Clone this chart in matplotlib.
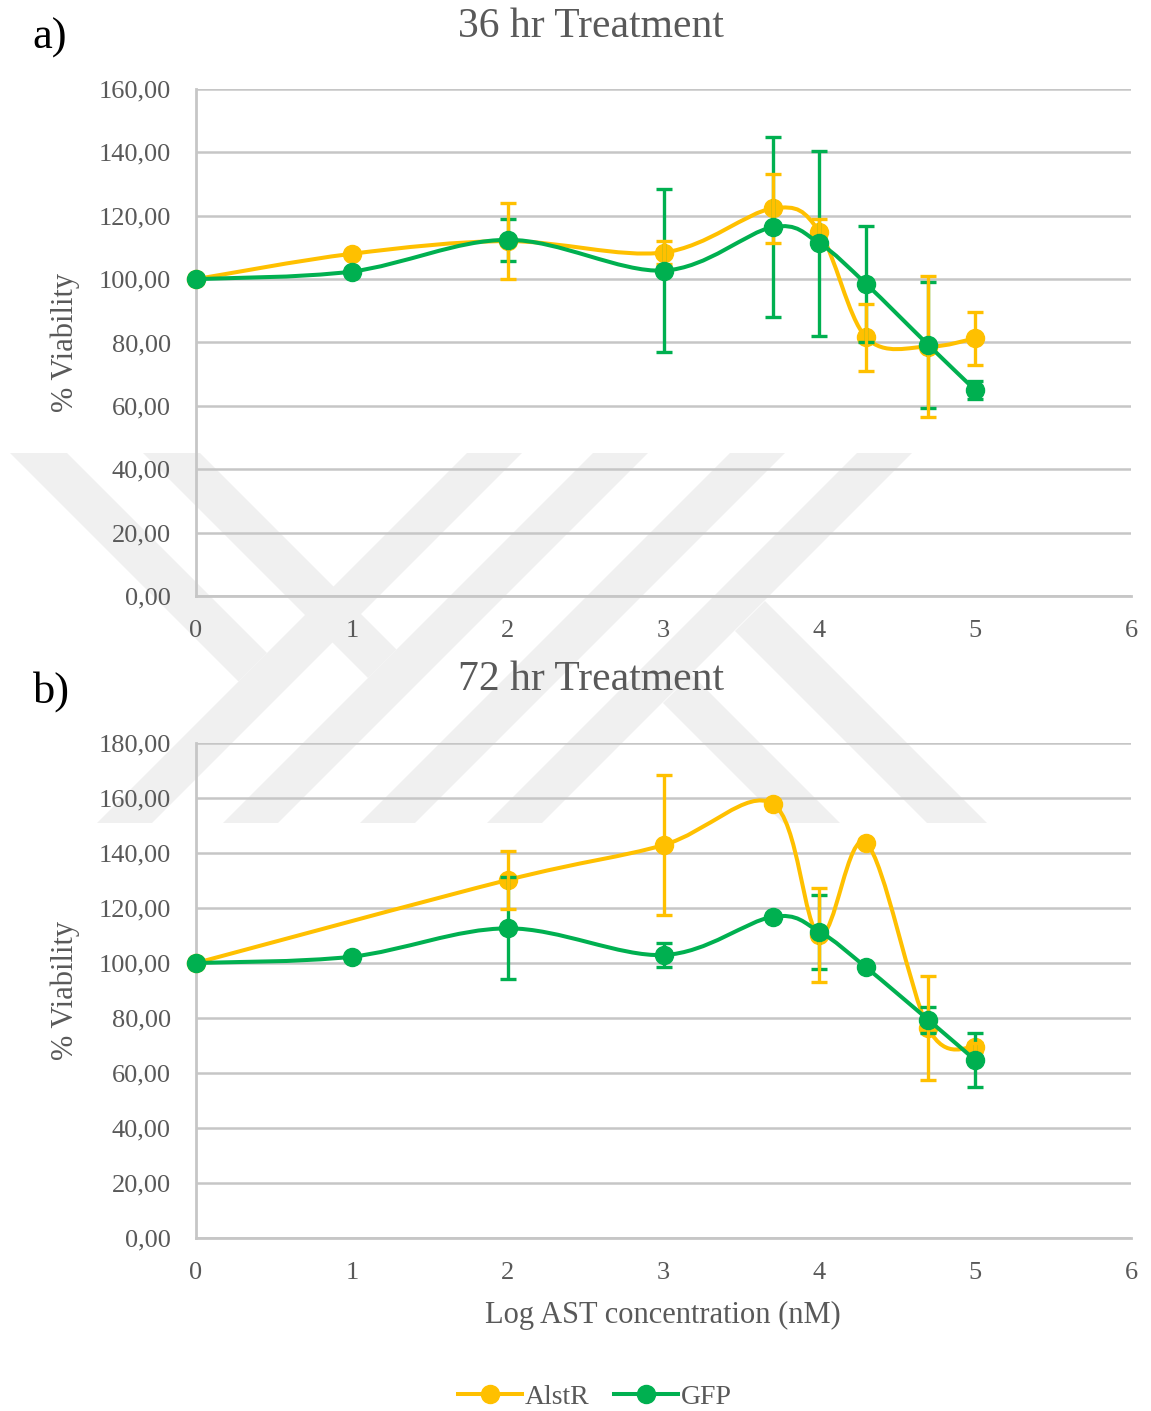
import numpy as np
import matplotlib
matplotlib.use("Agg")
import matplotlib.pyplot as plt
from matplotlib.path import Path
from matplotlib.patches import PathPatch, Polygon
from matplotlib.lines import Line2D
from matplotlib.ticker import FuncFormatter

plt.rcParams['font.family'] = ['Liberation Serif', 'DejaVu Serif']

# ---------------- data ----------------
x_36 = [0, 1, 2, 3, 3.7, 4, 4.3, 4.7, 5]
alstr_36 = [100, 108, 112, 108.4, 122.3, 115, 81.6, 78.7, 81.3]
alstr_36_err = [0, 0, 12, 3.7, 10.9, 4, 10.5, 22.3, 8.3]
gfp_36 = [100, 102.4, 112.4, 102.7, 116.4, 111.3, 98.5, 79.2, 65.0]
gfp_36_err = [0, 0, 6.7, 25.6, 28.5, 29.2, 18.3, 20, 2.7]

x_alstr_72 = [0, 2, 3, 3.7, 4, 4.3, 4.7, 5]
alstr_72 = [100, 130.2, 142.9, 158.0, 110.2, 143.7, 76.2, 69.3]
alstr_72_err = [0, 10.7, 25.6, 0, 17.1, 0, 18.9, 1.5]
x_gfp_72 = [0, 1, 2, 3, 3.7, 4, 4.3, 4.7, 5]
gfp_72 = [100, 102.3, 112.6, 102.9, 116.8, 111.4, 98.4, 79.3, 64.7]
gfp_72_err = [0, 0, 18.5, 4.4, 0, 13.5, 0, 4.6, 9.7]

series_names = ["AlstR", "GFP"]
titles = ["36 hr Treatment", "72 hr Treatment"]
panel_labels = ["a)", "b)"]
ylims = [160, 180]
x_ticks = [0, 1, 2, 3, 4, 5, 6]
ylabel = "% Viability"
xlabel = "Log AST concentration (nM)"

ORANGE = "#FFC000"
GREEN = "#00B050"
TXT = "#595959"
GRID = "#c6c6c6"

W, H = 1151, 1411
fig = plt.figure(figsize=(W / 100, H / 100), dpi=100)


def fx(px):
    return px / W


def fy(py):
    return 1 - py / H


# ---------------- watermark (faint) ----------------
wm_color = "#f0f0f0"
wm_polys = []
for xb in [97, 223, 360, 487]:
    wm_polys.append([(xb, 823), (xb + 55, 823), (xb + 55 + 370, 453), (xb + 370, 453)])
wm_polys.append([(10, 453), (67, 453), (267, 653), (238.5, 681.5)])
wm_polys.append([(143, 453), (200, 453), (396.5, 649.5), (368, 678)])
wm_polys.append([(663, 703), (691.5, 674.5), (840, 823), (783, 823)])
wm_polys.append([(735, 631), (765, 601), (987, 823), (927, 823)])
for poly in wm_polys:
    p = Polygon([(fx(a), fy(b)) for a, b in poly], closed=True,
                transform=fig.transFigure, facecolor=wm_color,
                edgecolor="none", zorder=-5)
    fig.add_artist(p)


def smooth_path(xs, ys):
    pts = np.column_stack([xs, ys]).astype(float)
    n = len(pts)
    verts = [pts[0]]
    codes = [Path.MOVETO]
    for i in range(n - 1):
        p0 = pts[i - 1] if i > 0 else pts[i]
        p1 = pts[i]
        p2 = pts[i + 1]
        p3 = pts[i + 2] if i + 2 < n else pts[i + 1]
        c1 = p1 + (p2 - p0) / 6.0
        c2 = p2 - (p3 - p1) / 6.0
        verts += [c1, c2, p2]
        codes += [Path.CURVE4] * 3
    return Path(verts, codes)


LW = 2.9
MS = 13
ELW = 2.4
CAP = 11

# axes rectangles (pixels): left 196, right 1131
axes_px = [(89, 596), (743, 1238)]
title_y = [27, 680]
label_pos = [(50, 38), (52, 692)]

panels = [
    (x_36, alstr_36, alstr_36_err, x_36, gfp_36, gfp_36_err),
    (x_alstr_72, alstr_72, alstr_72_err, x_gfp_72, gfp_72, gfp_72_err),
]

for k, (xa, ya, ea, xg, yg, eg) in enumerate(panels):
    top, bot = axes_px[k]
    ax = fig.add_axes([fx(196), fy(bot), fx(1131) - fx(196), (bot - top) / H])
    ax.set_facecolor("none")
    ax.set_xlim(0, 6)
    ax.set_ylim(0, ylims[k])
    ax.set_xticks(x_ticks)
    ax.set_yticks(np.arange(0, ylims[k] + 1, 20))
    ax.yaxis.set_major_formatter(FuncFormatter(lambda v, p: f"{v:.2f}".replace(".", ",")))
    ax.tick_params(axis="both", length=0, labelsize=19, colors=TXT)
    ax.tick_params(axis="y", pad=18)
    ax.tick_params(axis="x", pad=17)
    ax.grid(axis="y", color=GRID, lw=1.8)
    ax.set_axisbelow(True)
    for s in ["top", "right"]:
        ax.spines[s].set_visible(False)
    for s in ["left", "bottom"]:
        ax.spines[s].set_color(GRID)
        ax.spines[s].set_linewidth(2.0)

    # AlstR
    ax.add_patch(PathPatch(smooth_path(xa, ya), facecolor="none", edgecolor=ORANGE,
                           lw=LW, capstyle="round", joinstyle="round", zorder=3, clip_on=False))
    ax.plot(xa, ya, "o", color=ORANGE, ms=MS, ls="none", zorder=3.1, clip_on=False)
    # GFP errorbars
    mg = np.array(eg) > 0
    ax.errorbar(np.array(xg)[mg], np.array(yg)[mg], yerr=np.array(eg)[mg], fmt="none",
                ecolor=GREEN, elinewidth=ELW, capsize=CAP / 2, capthick=ELW, zorder=4)
    # AlstR errorbars
    ma = np.array(ea) > 0
    ax.errorbar(np.array(xa)[ma], np.array(ya)[ma], yerr=np.array(ea)[ma], fmt="none",
                ecolor=ORANGE, elinewidth=ELW, capsize=CAP / 2, capthick=ELW, zorder=4.5)
    # GFP
    ax.add_patch(PathPatch(smooth_path(xg, yg), facecolor="none", edgecolor=GREEN,
                           lw=LW, capstyle="round", joinstyle="round", zorder=5, clip_on=False))
    ax.plot(xg, yg, "o", color=GREEN, ms=MS, ls="none", zorder=5.1, clip_on=False)

    ax.set_ylabel(ylabel, fontsize=22, color=TXT)
    ax.yaxis.set_label_coords((80 - 196) / 935, 0.5)

    fig.text(fx(591), fy(title_y[k]), titles[k], fontsize=30, color=TXT,
             ha="center", va="center")
    fig.text(fx(label_pos[k][0]), fy(label_pos[k][1]), panel_labels[k], fontsize=32,
             color="black", ha="center", va="center")

fig.text(fx(663), fy(1315), xlabel, fontsize=22, color=TXT, ha="center", va="center")

handles = [
    Line2D([], [], color=ORANGE, lw=LW, marker="o", ms=MS),
    Line2D([], [], color=GREEN, lw=LW, marker="o", ms=MS),
]
leg = fig.legend(handles, series_names, loc="center", bbox_to_anchor=(fx(595), fy(1397)),
                 ncol=2, frameon=False, fontsize=20, handlelength=2.3,
                 handletextpad=0.1, columnspacing=0.9)
for t in leg.get_texts():
    t.set_color(TXT)

fig.savefig("out.png", dpi=100)
